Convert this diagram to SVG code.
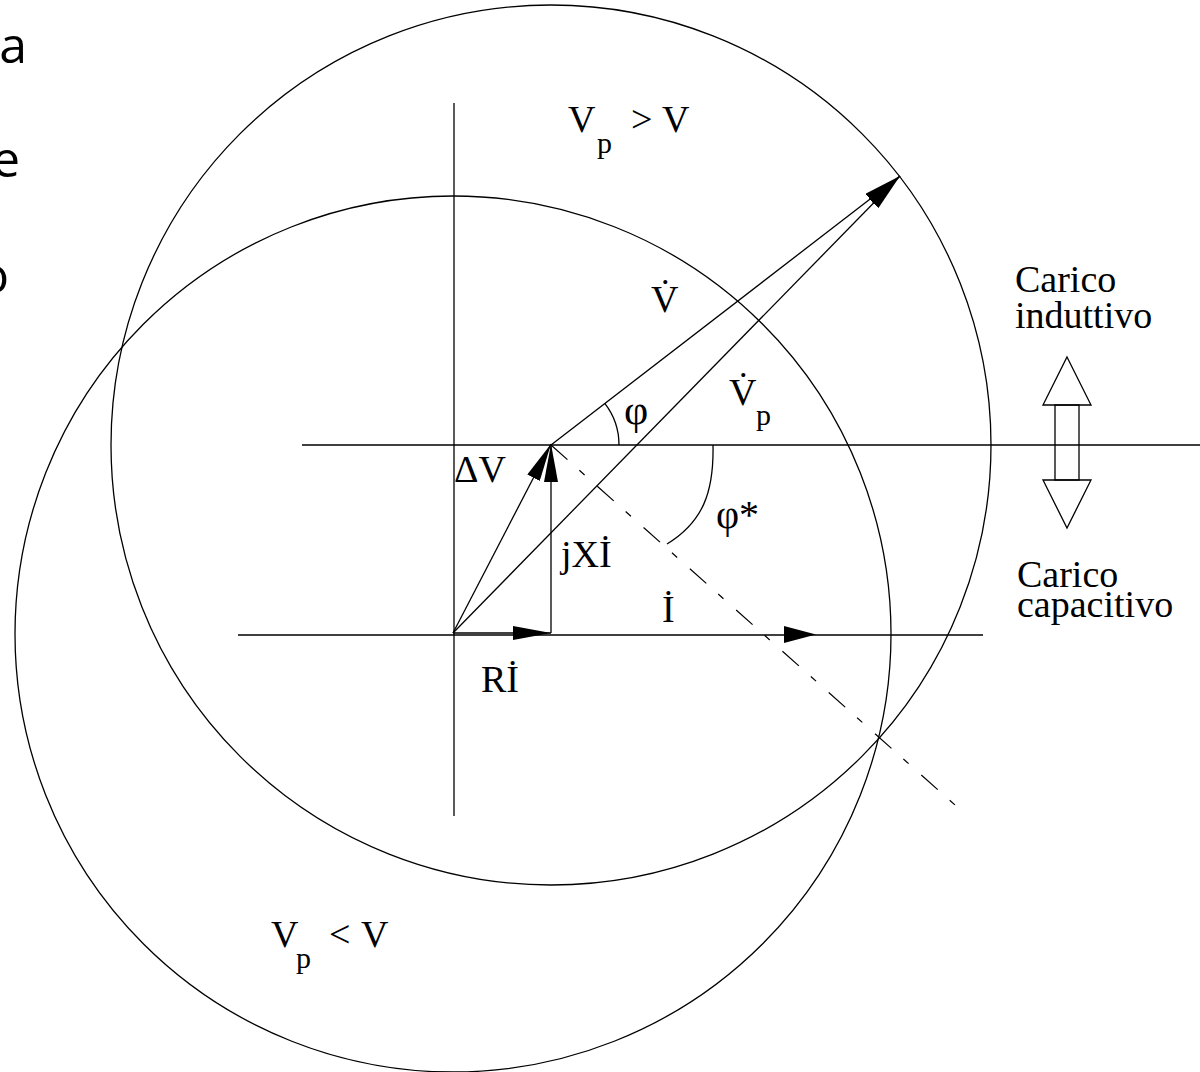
<svg xmlns="http://www.w3.org/2000/svg" width="1200" height="1072" viewBox="0 0 1200 1072">
<defs>
<style>
.ln{stroke:#000;stroke-width:1.3;fill:none}
.t{font-family:"Liberation Serif","Times New Roman",serif;font-size:38px;fill:#000}
.s{font-family:"Liberation Serif","Times New Roman",serif;font-size:30px;fill:#000}
.side{font-family:"Open Sans","Noto Sans",sans-serif;font-size:50px;fill:#000}
.dash{stroke:#000;stroke-width:1.2;fill:none;stroke-dasharray:22 16 7 17}
</style>
<marker id="ah" markerWidth="38" markerHeight="14" refX="38" refY="7" orient="auto" markerUnits="userSpaceOnUse">
<path d="M0,0 L38,7 L0,14 z" fill="#000"/>
</marker>
</defs>
<rect width="1200" height="1072" fill="#fff"/>

<g id="side-text">
<text class="side" x="27" y="63" text-anchor="end">la</text>
<text class="side" x="20" y="177" text-anchor="end">e</text>
<text class="side" x="9" y="293" text-anchor="end">o</text>
</g>

<g id="circles">
<circle id="circle-upper" class="ln" cx="551" cy="445" r="440"/>
<circle id="circle-lower" class="ln" cx="453" cy="634" r="438"/>
</g>

<g id="axes">
<line class="ln" x1="454" y1="103" x2="454" y2="816"/>
<line class="ln" x1="302" y1="445" x2="1200" y2="445"/>
<line class="ln" x1="238" y1="635" x2="983" y2="635"/>
<line class="dash" x1="551" y1="445" x2="955" y2="805"/>
</g>

<g id="connectors">
<line class="ln" x1="453" y1="633" x2="551" y2="633" marker-end="url(#ah)"/>
<line class="ln" x1="551" y1="633" x2="551" y2="444" marker-end="url(#ah)"/>
<line class="ln" x1="453" y1="633" x2="551" y2="444" marker-end="url(#ah)"/>
<line class="ln" x1="551" y1="445" x2="900" y2="176" marker-end="url(#ah)"/>
<line class="ln" x1="453" y1="633" x2="900" y2="176" marker-end="url(#ah)"/>
<path d="M784,626 L816,634.5 L784,643 z" fill="#000"/>
<path class="ln" d="M619,445 A68,68 0 0 0 604.8,403.4"/>
<path class="ln" d="M713,445 C714,492 703,522 667,544"/>
</g>

<g id="double-arrow">
<path class="ln" d="M1067,357 L1091,405 L1043,405 z"/>
<rect class="ln" x="1055" y="405" width="24" height="75"/>
<path class="ln" d="M1043,480 L1091,480 L1067,528 z"/>
</g>

<g id="labels">
<text class="t" x="568" y="132">V</text>
<text class="s" x="597" y="153">p</text>
<text class="t" x="631" y="132">&gt;</text>
<text class="t" x="662" y="132">V</text>

<text class="t" x="651" y="312">V̇</text>
<text class="t" x="729" y="405">V̇</text>
<text class="s" x="756" y="425">p</text>
<text class="t" x="624" y="424" style="font-size:42px">φ</text>
<text class="t" x="716" y="528" style="font-size:40px">φ*</text>
<text class="t" x="454" y="482">ΔV</text>
<text class="t" x="561" y="567">jXİ</text>
<text class="t" x="662" y="622">İ</text>
<text class="t" x="481" y="692">Rİ</text>

<text class="t" x="271" y="947">V</text>
<text class="s" x="296" y="968">p</text>
<text class="t" x="329" y="947">&lt;</text>
<text class="t" x="361" y="947">V</text>

<text class="t" x="1015" y="292">Carico</text>
<text class="t" x="1015" y="328">induttivo</text>
<text class="t" x="1017" y="587">Carico</text>
<text class="t" x="1017" y="617">capacitivo</text>
</g>
</svg>
